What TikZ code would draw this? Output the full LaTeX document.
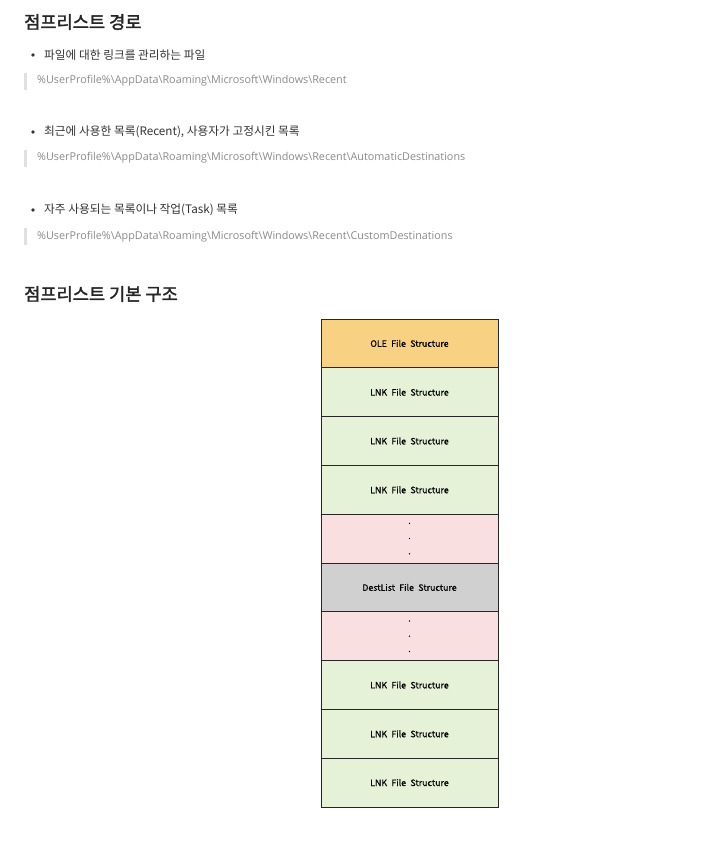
\documentclass[tikz,border=0pt]{standalone}
\usepackage{fontspec}
\setmainfont{Open Sans}
\newfontfamily\kr{Noto Sans CJK KR}
\newfontfamily\krb{Noto Sans CJK KR}[FakeBold=2]
\newfontfamily\krm{Noto Sans CJK KR}[FakeBold=0.6, WordSpace=2.2]
\definecolor{olec}{HTML}{F8D183}
\definecolor{lnkc}{HTML}{E6F2D7}
\definecolor{dotc}{HTML}{F9DFDF}
\definecolor{destc}{HTML}{D0D0D0}
\definecolor{pathc}{HTML}{8A8A8A}
\definecolor{barc}{HTML}{E0E0E0}
\tikzset{
  heading/.style={anchor=west, inner sep=0pt, font=\krb\fontsize{17.6}{20}\selectfont, text=black!85},
  bullettext/.style={anchor=west, inner sep=0pt, font=\kr\fontsize{11.7}{13}\selectfont, text=black!80},
  pathtext/.style={anchor=west, inner sep=0pt, font=\fontsize{10.8}{12}\selectfont, text=pathc},
  cell/.style={draw=black!85, line width=1pt, minimum width=177pt, minimum height=48.8pt, inner sep=0pt, font=\krm\fontsize{8.8}{10}\selectfont},
}
\begin{document}
\begin{tikzpicture}[x=1pt,y=-1pt]
\useasboundingbox (0,0) rectangle (716,859);
\node[heading] (h1) at (24,22) {점프리스트 경로};
\fill[black!80] (33,55) circle (1.8);
\node[bullettext] (b1) at (44,55) {파일에 대한 링크를 관리하는 파일};
\fill[barc] (24,73) rectangle (27,90);
\node[pathtext] (p1) at (37,81) {\%UserProfile\%\textbackslash AppData\textbackslash Roaming\textbackslash Microsoft\textbackslash Windows\textbackslash Recent};
\fill[black!80] (33,132) circle (1.8);
\node[bullettext] (b2) at (44,132) {최근에 사용한 목록(Recent), 사용자가 고정시킨 목록};
\fill[barc] (24,150) rectangle (27,167);
\node[pathtext] (p2) at (37,158) {\%UserProfile\%\textbackslash AppData\textbackslash Roaming\textbackslash Microsoft\textbackslash Windows\textbackslash Recent\textbackslash AutomaticDestinations};
\fill[black!80] (33,210) circle (1.8);
\node[bullettext] (b3) at (44,210) {자주 사용되는 목록이나 작업(Task) 목록};
\fill[barc] (24,228) rectangle (27,245);
\node[pathtext] (p3) at (37,237) {\%UserProfile\%\textbackslash AppData\textbackslash Roaming\textbackslash Microsoft\textbackslash Windows\textbackslash Recent\textbackslash CustomDestinations};
\node[heading] (h2) at (24,294) {점프리스트 기본 구조};
\def\dotsv{\shortstack{.\\[11pt].\\[11pt].}}
\foreach \i/\c/\t in {0/olec/OLE File Structure,1/lnkc/LNK File Structure,2/lnkc/LNK File Structure,3/lnkc/LNK File Structure,4/dotc/\dotsv,5/destc/DestList File Structure,6/dotc/\dotsv,7/lnkc/LNK File Structure,8/lnkc/LNK File Structure,9/lnkc/LNK File Structure}
  \node[cell, fill=\c] (c\i) at (409.5,343.4+48.8*\i) {\t};
\end{tikzpicture}
\end{document}
